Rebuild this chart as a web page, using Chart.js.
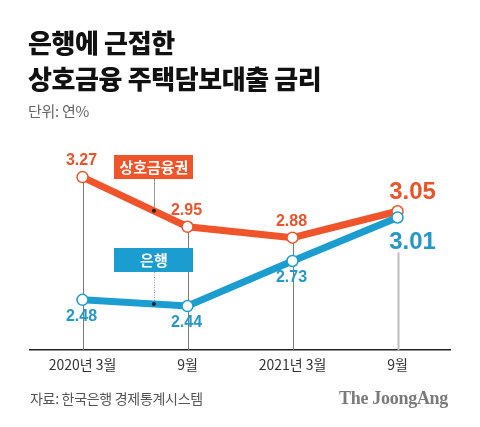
<!DOCTYPE html>
<html>
<head>
<meta charset="utf-8">
<script src="https://cdn.jsdelivr.net/npm/chart.js@4"></script>
<style>
  html, body { margin: 0; padding: 0; background: #fff; }
  #wrap { position: relative; width: 480px; height: 427px; overflow: hidden; }
  #chart { position: absolute; left: 0; top: 0; }
  .title { position: absolute; left: 28px; top: 24px; font: 900 26px/36px "Noto Sans CJK KR"; letter-spacing: -0.4px; color: #111; }
  .unit { position: absolute; left: 28px; top: 102px; font: 15px/18px "Noto Sans CJK KR"; letter-spacing: -0.3px; color: #666; }
  .source { position: absolute; left: 30px; top: 390px; font: 14px/16px "Noto Sans CJK KR"; letter-spacing: -0.3px; color: #555; }
  .brand { position: absolute; right: 32px; top: 388px; font: bold 18px/20px "Liberation Serif", serif; letter-spacing: -0.3px; color: #7a7a7a; }
</style>
</head>
<body>
<div id="wrap">
  <canvas id="chart" width="480" height="427"></canvas>
  <div class="title">은행에 근접한<br>상호금융 주택담보대출 금리</div>
  <div class="unit">단위: 연%</div>
  <div class="source">자료: 한국은행 경제통계시스템</div>
  <div class="brand">The JoongAng</div>
</div>
<script>
const periods = ['2020년 3월', '9월', '2021년 3월', '9월'];
const bankRates = [2.48, 2.44, 2.73, 3.01];
const mutualRates = [3.27, 2.95, 2.88, 3.05];
const seriesNames = ['은행', '상호금융권'];

const ORANGE = '#f0542a';
const BLUE = '#1b9dd0';
const ORANGE_TEXT = '#e9542b';
const BLUE_TEXT = '#2598c6';

// where the name boxes hook onto their line (fraction between first two points)
const calloutAt = 0.68;

const overlay = {
  id: 'overlay',
  beforeDatasetsDraw(chart) {
    const { ctx, scales: { x, y }, chartArea } = chart;
    ctx.save();
    periods.forEach((p, i) => {
      const px = x.getPixelForValue(i);
      let top = y.getPixelForValue(mutualRates[i]);
      ctx.strokeStyle = '#7a7a7a';
      ctx.lineWidth = 1;
      if (i === periods.length - 1) {
        top = y.getPixelForValue(bankRates[i]) + 35;
        ctx.strokeStyle = '#bdbdbd';
        ctx.lineWidth = 2;
      }
      ctx.beginPath();
      ctx.moveTo(Math.round(px) + 0.5, top);
      ctx.lineTo(Math.round(px) + 0.5, chartArea.bottom);
      ctx.stroke();
    });

    // callout connectors
    const cx = Math.round(x.getPixelForValue(calloutAt)) + 0.5;
    const lerp = (arr) => arr[0] + (arr[1] - arr[0]) * calloutAt;
    const oy = y.getPixelForValue(lerp(mutualRates));
    const by = y.getPixelForValue(lerp(bankRates));
    ctx.strokeStyle = '#9a9a9a';
    ctx.lineWidth = 1;
    ctx.beginPath();
    ctx.moveTo(cx, oy - 32);
    ctx.lineTo(cx, oy);
    ctx.stroke();
    ctx.setLineDash([1, 1.5]);
    ctx.beginPath();
    ctx.moveTo(cx, by - 32);
    ctx.lineTo(cx, by);
    ctx.stroke();
    ctx.restore();
  },
  afterDatasetsDraw(chart) {
    const { ctx, scales: { x, y } } = chart;
    ctx.save();
    ctx.textAlign = 'center';
    ctx.textBaseline = 'middle';

    const cx = x.getPixelForValue(calloutAt);
    const lerp = (arr) => arr[0] + (arr[1] - arr[0]) * calloutAt;
    const boxes = [
      { name: seriesNames[1], color: ORANGE, yv: y.getPixelForValue(lerp(mutualRates)) },
      { name: seriesNames[0], color: BLUE, yv: y.getPixelForValue(lerp(bankRates)) }
    ];
    boxes.forEach(b => {
      // dot where connector meets the line
      ctx.fillStyle = '#222';
      ctx.beginPath();
      ctx.arc(cx, b.yv, 2, 0, Math.PI * 2);
      ctx.fill();
      ctx.fillStyle = b.color;
      ctx.fillRect(Math.round(cx - 39.5), Math.round(b.yv - 56), 79, 24);
      ctx.fillStyle = '#fff';
      ctx.font = 'bold 15px "Noto Sans CJK KR"';
      ctx.fillText(b.name, cx, b.yv - 44);
    });

    const last = periods.length - 1;
    mutualRates.forEach((v, i) => {
      const px = x.getPixelForValue(i);
      const py = y.getPixelForValue(v);
      ctx.fillStyle = ORANGE_TEXT;
      if (i === last) {
        ctx.font = 'bold 24px "Liberation Sans", Arial';
        ctx.fillText(v.toFixed(2), px + 15, py - 19);
      } else {
        ctx.font = 'bold 16px "Liberation Sans", Arial';
        ctx.fillText(v.toFixed(2), px - 1, py - 16);
      }
    });
    bankRates.forEach((v, i) => {
      const px = x.getPixelForValue(i);
      const py = y.getPixelForValue(v);
      ctx.fillStyle = BLUE_TEXT;
      if (i === last) {
        ctx.font = 'bold 24px "Liberation Sans", Arial';
        ctx.fillText(v.toFixed(2), px + 15, py + 25);
      } else {
        ctx.font = 'bold 16px "Liberation Sans", Arial';
        ctx.fillText(v.toFixed(2), px - 1, py + 17);
      }
    });
    ctx.restore();
  }
};

const chart = new Chart(document.getElementById('chart'), {
  type: 'line',
  data: {
    labels: periods,
    datasets: [{
      label: seriesNames[0],
      data: bankRates,
      borderColor: BLUE,
      borderWidth: 7,
      pointRadius: 5.5,
      pointBorderWidth: 1.5,
      pointBackgroundColor: '#fff',
      pointBorderColor: BLUE,
      tension: 0
    }, {
      label: seriesNames[1],
      data: mutualRates,
      borderColor: ORANGE,
      borderWidth: 7,
      pointRadius: 5.5,
      pointBorderWidth: 1.5,
      pointBackgroundColor: '#fff',
      pointBorderColor: ORANGE,
      tension: 0
    }]
  },
  options: {
    responsive: false,
    animation: false,
    events: [],
    layout: { padding: { left: 30, right: 30, top: 150, bottom: 48 } },
    plugins: {
      legend: { display: false },
      tooltip: { enabled: false }
    },
    scales: {
      x: {
        offset: true,
        grid: { display: true, drawOnChartArea: false, drawTicks: false },
        border: { color: '#222', width: 1.5 },
        ticks: { color: '#333', padding: 6, font: { family: '"Noto Sans CJK KR"', size: 14 }, maxRotation: 0, autoSkip: false }
      },
      y: { display: false, min: 2.156, max: 3.444 }
    }
  },
  plugins: [overlay]
});
</script>
</body>
</html>
